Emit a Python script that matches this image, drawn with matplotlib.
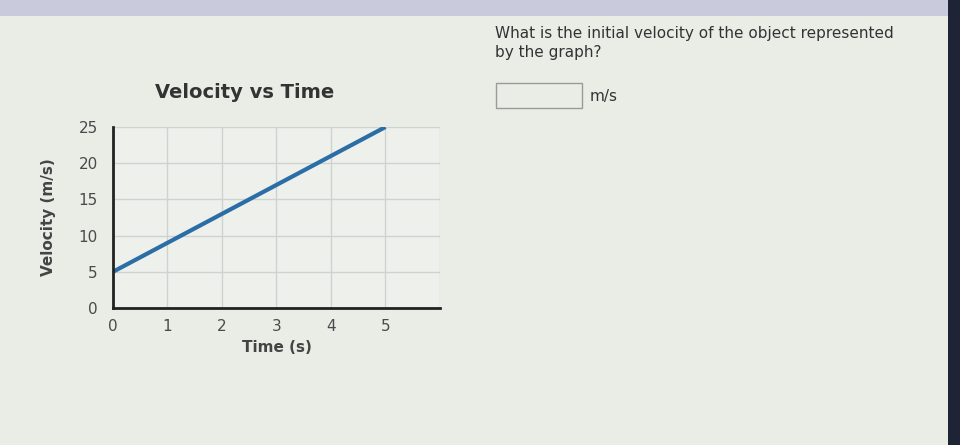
import matplotlib.pyplot as plt
from matplotlib.patches import Rectangle

# Data
time_s = [0, 5]
velocity = [5, 25]
x_ticks = [0, 1, 2, 3, 4, 5]
y_ticks = [0, 5, 10, 15, 20, 25]

fig = plt.figure(figsize=(9.6, 4.45), dpi=100)
fig.patch.set_facecolor('#e9ede6')

# screen top band and right edge
fig.add_artist(Rectangle((0, 0.965), 1, 0.035, transform=fig.transFigure,
                         facecolor='#c9cbdc', edgecolor='none'))
fig.add_artist(Rectangle((948 / 960, 0), 12 / 960, 1, transform=fig.transFigure,
                         facecolor='#1f2336', edgecolor='none'))

ax = fig.add_axes([0.1177, 0.3079, 0.3406, 0.4067])
ax.set_facecolor('#eef0ec')
ax.plot(time_s, velocity, color='#2b6ea6', linewidth=3, solid_capstyle='butt')

ax.set_xlim(0, 6)
ax.set_ylim(0, 25)
ax.set_xticks(range(0, 7))
ax.set_xticklabels([str(t) for t in x_ticks] + [''])
ax.set_yticks(y_ticks)
ax.grid(True, color='#cfd3cf', linewidth=1)
ax.tick_params(length=0, labelsize=11, colors='#4a4a4a')
ax.tick_params(axis='y', pad=11)
ax.tick_params(axis='x', pad=8)

for side in ['top', 'right']:
    ax.spines[side].set_visible(False)
for side in ['left', 'bottom']:
    ax.spines[side].set_linewidth(2)
    ax.spines[side].set_color('#222222')

fig.text(245 / 960, 1 - 92 / 445, 'Velocity vs Time', fontsize=14,
         fontweight='bold', color='#333333', ha='center', va='center')
ax.set_xlabel('Time (s)', fontsize=11, fontweight='bold', color='#444444')
ax.set_ylabel('Velocity (m/s)', fontsize=11, fontweight='bold', color='#444444',
              labelpad=16)

# question text on the right
fig.text(495 / 960, 1 - 43 / 445,
         'What is the initial velocity of the object represented\nby the graph?',
         fontsize=11, color='#333333', va='center', linespacing=1.3)
fig.add_artist(Rectangle((496 / 960, 1 - 108 / 445), 86 / 960, 25 / 445,
                         transform=fig.transFigure, facecolor='none',
                         edgecolor='#9a9a9a', linewidth=1))
fig.text(590 / 960, 1 - 96 / 445, 'm/s', fontsize=11, color='#333333',
         va='center')

plt.savefig('out.png', dpi=100, facecolor=fig.get_facecolor())
